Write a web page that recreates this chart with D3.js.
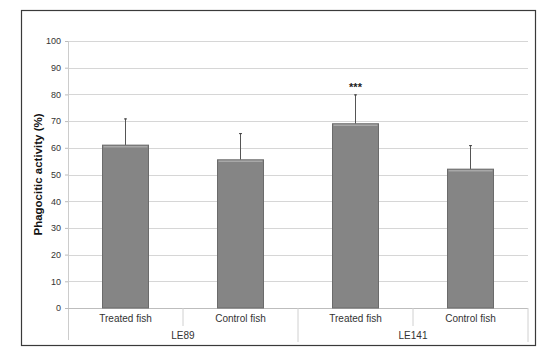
<!DOCTYPE html>
<html>
<head>
<meta charset="utf-8">
<script src="https://cdn.jsdelivr.net/npm/d3@7"></script>
<style>
  body { margin: 0; background: #fff; }
  text { font-family: "Liberation Sans", Arial, sans-serif; }
</style>
</head>
<body>
<script>
// data
var groups = ["LE89", "LE141"];
var categories = ["Treated fish", "Control fish", "Treated fish", "Control fish"];
var means = [61, 55.5, 69, 52];
var errors = [10, 10, 11, 9];
var stars = ["", "", "***", ""];
var yTicks = [0, 10, 20, 30, 40, 50, 60, 70, 80, 90, 100];

var W = 550, H = 360;
var margin = { top: 41, left: 68, right: 22, bottom: 52 };
var w = W - margin.left - margin.right,
    h = H - margin.top - margin.bottom;

var svg = d3.select("body").append("svg")
    .attr("width", W)
    .attr("height", H);

// outer frame
svg.append("rect")
  .attr("x", 21.5).attr("y", 10.5)
  .attr("width", 514).attr("height", 335)
  .attr("fill", "none").attr("stroke", "#3a3a3a").attr("stroke-width", 1.2);

var g = svg.append("g").attr("transform", "translate(" + margin.left + "," + margin.top + ")");

var x = d3.scaleBand().domain(d3.range(categories.length)).range([0, w]).paddingInner(0).paddingOuter(0);
var y = d3.scaleLinear().domain([0, 100]).range([h, 0]);

// gridlines
g.selectAll("line.grid").data(yTicks.filter(function(d){ return d > 0; })).enter().append("line")
  .attr("x1", 0).attr("x2", w)
  .attr("y1", function(d){ return Math.round(y(d)) + 0.5; })
  .attr("y2", function(d){ return Math.round(y(d)) + 0.5; })
  .attr("stroke", "#d6d6d6").attr("stroke-width", 1.2);

// y axis
var yAxis = g.append("g").call(d3.axisLeft(y).tickValues(yTicks).tickSize(3).tickPadding(4));
yAxis.select(".domain").remove();
yAxis.selectAll(".tick line").attr("stroke", "#bbb");
yAxis.selectAll(".tick text").attr("fill", "#333").attr("font-size", 9);

// axis lines
g.append("line").attr("x1", 0.5).attr("x2", 0.5).attr("y1", 0).attr("y2", h + 32)
  .attr("stroke", "#ccc");
g.append("line").attr("x1", 0).attr("x2", w).attr("y1", h + 0.5).attr("y2", h + 0.5)
  .attr("stroke", "#bdbdbd").attr("stroke-width", 1.2);

// category separators
var seps = d3.range(1, categories.length + 1);
g.selectAll("line.sep").data(seps).enter().append("line")
  .attr("x1", function(i){ return i < categories.length ? x(i) : w; })
  .attr("x2", function(i){ return i < categories.length ? x(i) : w; })
  .attr("y1", h)
  .attr("y2", function(i){ return i % 2 === 0 ? h + 34 : h + 18; })
  .attr("stroke", "#d0d0d0");

// category labels
g.selectAll("text.cat").data(categories).enter().append("text")
  .attr("x", function(d, i){ return x(i) + x.bandwidth() / 2; })
  .attr("y", h + 14)
  .attr("text-anchor", "middle")
  .attr("font-size", 10)
  .attr("fill", "#333")
  .text(function(d){ return d; });

// group labels
g.selectAll("text.grp").data(groups).enter().append("text")
  .attr("x", function(d, i){ return x(i * 2 + 1); })
  .attr("y", h + 31)
  .attr("text-anchor", "middle")
  .attr("font-size", 10)
  .attr("fill", "#333")
  .text(function(d){ return d; });

var bw = x.bandwidth() * 0.4;

// error bars (upper only)
g.selectAll("line.err").data(means).enter().append("line")
  .attr("x1", function(d, i){ return x(i) + x.bandwidth() / 2; })
  .attr("x2", function(d, i){ return x(i) + x.bandwidth() / 2; })
  .attr("y1", function(d){ return y(d); })
  .attr("y2", function(d, i){ return y(d + errors[i]); })
  .attr("stroke", "#555").attr("stroke-width", 1);
g.selectAll("line.cap").data(means).enter().append("line")
  .attr("x1", function(d, i){ return x(i) + x.bandwidth() / 2 - 1.5; })
  .attr("x2", function(d, i){ return x(i) + x.bandwidth() / 2 + 1.5; })
  .attr("y1", function(d, i){ return y(d + errors[i]) + 0.5; })
  .attr("y2", function(d, i){ return y(d + errors[i]) + 0.5; })
  .attr("stroke", "#444").attr("stroke-width", 1);

// bars
g.selectAll("rect.bar").data(means).enter().append("rect")
  .attr("x", function(d, i){ return x(i) + (x.bandwidth() - bw) / 2; })
  .attr("y", function(d){ return y(d); })
  .attr("width", bw)
  .attr("height", function(d){ return h - y(d); })
  .attr("fill", "#858585")
  .attr("stroke", "#6b6b6b").attr("stroke-width", 1);
// light top edge
g.selectAll("line.top").data(means).enter().append("line")
  .attr("x1", function(d, i){ return x(i) + (x.bandwidth() - bw) / 2 + 1; })
  .attr("x2", function(d, i){ return x(i) + (x.bandwidth() + bw) / 2 - 1; })
  .attr("y1", function(d){ return y(d) + 1.5; })
  .attr("y2", function(d){ return y(d) + 1.5; })
  .attr("stroke", "#a8a8a8").attr("stroke-width", 1.5);

// significance stars
g.selectAll("text.star").data(stars).enter().append("text")
  .attr("x", function(d, i){ return x(i) + x.bandwidth() / 2; })
  .attr("y", function(d, i){ return y(means[i] + errors[i]) - 3; })
  .attr("text-anchor", "middle")
  .attr("font-size", 11)
  .attr("font-weight", "bold")
  .attr("fill", "#222")
  .text(function(d){ return d; });

// y title
svg.append("text")
  .attr("transform", "translate(42," + (margin.top + h / 2) + ") rotate(-90)")
  .attr("text-anchor", "middle")
  .attr("font-size", 11.5)
  .attr("font-weight", "bold")
  .attr("fill", "#111")
  .text("Phagocitic activity (%)");
</script>
</body>
</html>
